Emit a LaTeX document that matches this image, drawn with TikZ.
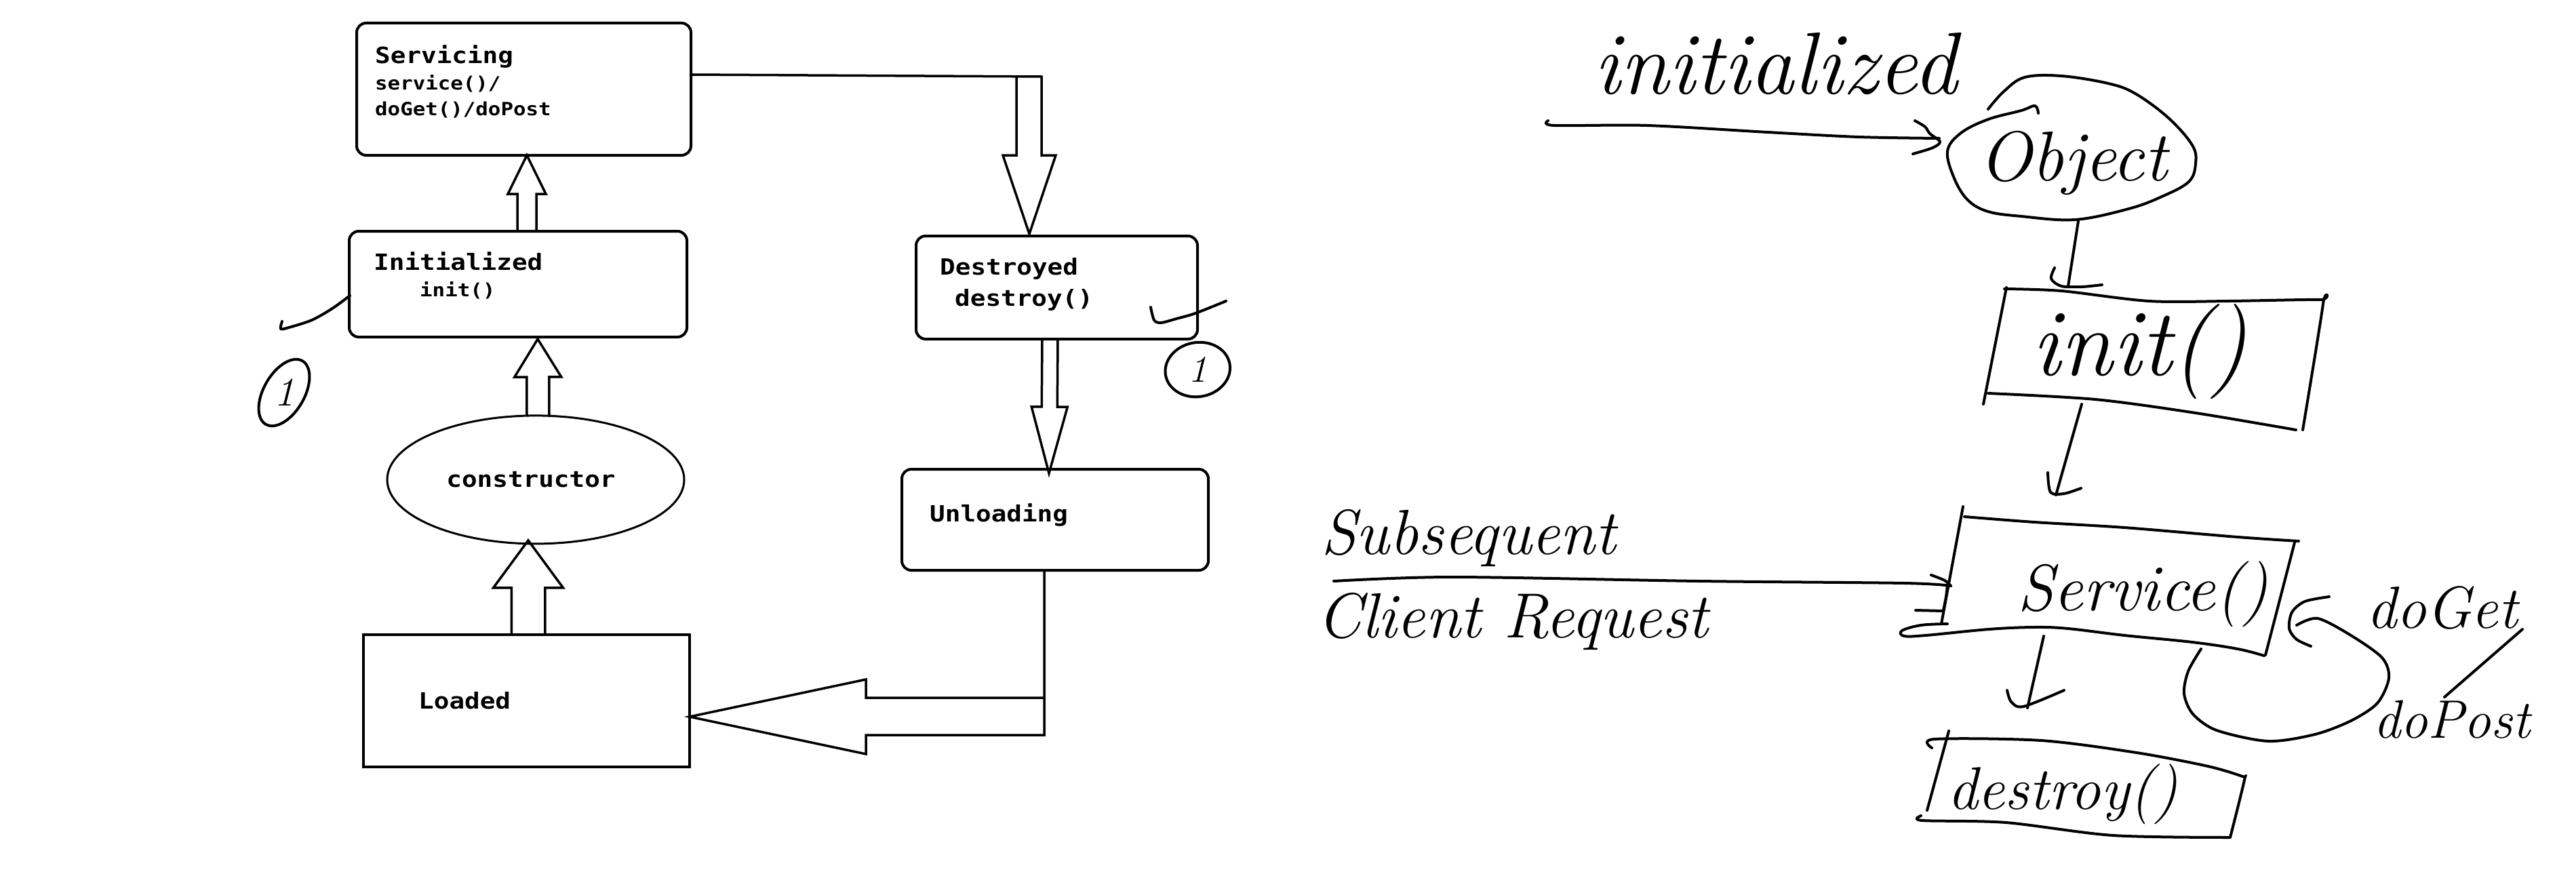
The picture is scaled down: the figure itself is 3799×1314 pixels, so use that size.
\documentclass[tikz,border=0pt]{standalone}
\usepackage{fontspec}
\newfontfamily\tyf[FakeStretch=1.14]{DejaVu Sans Mono Bold}
\usetikzlibrary{calc,shapes.geometric}
\newcommand\hwf[1]{\fontsize{#1}{#1}\selectfont\itshape}
\newcommand\blockarrow[5]{%
  \coordinate (bh) at ($(#2)!#5!(#1)$);
  \draw[blk] ($(#1)!#3!90:(#2)$) -- ($(bh)!#3!-90:(#1)$) -- ($(bh)!#4!-90:(#1)$) -- (#2)
     -- ($(bh)!#4!90:(#1)$) -- ($(bh)!#3!90:(#1)$) -- ($(#1)!#3!-90:(#2)$);}
\tikzset{
  box/.style={draw, line width=4pt, rounded corners=14pt, inner sep=0pt, outer sep=0pt},
  sqbox/.style={draw, line width=4.5pt, inner sep=0pt, outer sep=0pt},
  big/.style={font=\fontsize{33}{36}\selectfont\tyf, anchor=base west, inner sep=0pt},
  small/.style={font=\fontsize{27}{30}\selectfont\tyf, anchor=base west, inner sep=0pt},
  blk/.style={draw, line width=3.5pt, line join=miter},
  pen/.style={line width=4pt, line cap=round, line join=round},
  hw/.style={anchor=base west, inner sep=0pt},
}
\begin{document}
\begin{tikzpicture}[x=1pt,y=-1pt]
\fill[white] (0,0) rectangle (3799,1314);
\useasboundingbox (0,0) rectangle (3799,1314);

% ---------- typed state diagram ----------
\node[box, minimum width=493pt, minimum height=195pt] (serv) at (772.5,131.5) {};
\node[box, minimum width=498pt, minimum height=156pt] (ini) at (764,419) {};
\node[box, minimum width=415pt, minimum height=152pt] (des) at (1558.5,424) {};
\node[box, minimum width=452pt, minimum height=149pt] (unl) at (1556,766.5) {};
\node[sqbox, minimum width=481pt, minimum height=195pt] (load) at (776.5,1033.5) {};
\node[draw, ellipse, line width=3pt, outer sep=0pt, inner sep=0pt,
      minimum width=438pt, minimum height=189pt] (cons) at (790,707.4) {};

\node[big] (tserv) at (553,93.6) {Servicing};
\node[small] (tserv2) at (553,132) {service()/};
\node[small] (tserv3) at (553,170) {doGet()/doPost};
\node[big] (tini) at (551,398) {Initialized};
\node[small] (tini2) at (619,437.5) {init()};
\node[big] (tdes) at (1386,405) {Destroyed};
\node[big] (tdes2) at (1408,451) {destroy()};
\node[big, anchor=base] (tcons) at (783,718) {constructor};
\node[big] (tunl) at (1371,769) {Unloading};
\node[big] (tload) at (617,1045) {Loaded};

% block arrows
\coordinate (a1s) at ($(load.north)+(2.5,0)$);
\coordinate (a1t) at ($(cons.south)+(-11,-5)$);
\blockarrow{a1s}{a1t}{24.75pt}{51.5pt}{70pt}
\coordinate (a2s) at ($(cons.north)+(3.5,0)$);
\coordinate (a2t) at ($(ini.south)+(29,3)$);
\blockarrow{a2s}{a2t}{16.5pt}{34.5pt}{56pt}
\coordinate (a3s) at ($(ini.north)+(13,0)$);
\coordinate (a3t) at ($(serv.south)+(4.5,0)$);
\blockarrow{a3s}{a3t}{14pt}{28pt}{57pt}
\coordinate (a4s) at ($(des.south)+(-10,0)$);
\coordinate (a4t) at ($(unl.north)+(-9,6)$);
\blockarrow{a4s}{a4t}{11.5pt}{26.5pt}{98pt}
% Servicing -> Destroyed
\coordinate (a5t) at ($(des.north)+(-40.5,-3)$);
\draw[blk] ($(serv.east)+(0,-21.5)$) -- ($(a5t)+(18,-232)$) -- ($(a5t)+(18,-116)$)
  -- ($(a5t)+(39,-116)$) -- (a5t) -- ($(a5t)+(-39,-116)$) -- ($(a5t)+(-19,-116)$)
  -- ($(a5t)+(-19,-231)$);
% Unloading -> Loaded
\coordinate (a6s) at ($(unl.south)+(-16,0)$);
\coordinate (a6t) at ($(load.east)+(0,23.5)$);
\draw[blk] (a6s) -- ($(a6t)+(523,27)$) -- ($(a6t)+(260,27)$) -- ($(a6t)+(260,55)$)
  -- (a6t) -- ($(a6t)+(260,-55)$) -- ($(a6t)+(260,-28)$) -- ($(a6t)+(523,-28)$);

% hand marks on the left
\draw[pen] plot[smooth] coordinates {(516,436) (490,455) (460,472) (426,483) (414,485) (416,474)};
\draw[pen] plot[smooth] coordinates {(1697,453) (1702,472) (1712,476) (1735,470) (1763,462) (1808,444)};
\coordinate (c1) at (419,579);
\draw[pen, rotate around={60:(c1)}] (c1) ellipse [x radius=54pt, y radius=30pt];
\node[hw, anchor=center, font=\hwf{60}] (one1) at (c1) {1};
\coordinate (c2) at (1766,545);
\draw[pen, rotate around={10:(c2)}] (c2) ellipse [x radius=48pt, y radius=40pt];
\node[hw, anchor=center, font=\hwf{56}] (one2) at (c2) {1};

% ---------- handwritten sketch ----------
\node[hw, font=\hwf{130}] (hinit) at (2350,138) {initialized};
\node[hw, font=\hwf{104}] (hobj) at (2918,266) {Object};
\node[hw, font=\hwf{140}] (hini) at (2996,553) {init()};
\node[hw, font=\hwf{94}] (hsub) at (1948,817) {Subsequent};
\node[hw, font=\hwf{94}] (hcli) at (1942,940) {Client Request};
\node[hw, font=\hwf{97}] (hser) at (2975,900) {Service()};
\node[hw, font=\hwf{88}] (hget) at (3490,926) {doGet};
\node[hw, font=\hwf{80}] (hpost) at (3500,1088) {doPost};
\node[hw, font=\hwf{89}] (hdes) at (2872,1193) {destroy()};

% initialized arrow
\draw[pen] plot[smooth] coordinates {(2283,178) (2292,185) (2429,185) (2607,195) (2741,202) (2860,204)};
\draw[pen] plot[smooth] coordinates {(2824,178) (2839,187) (2846,197) (2861,209) (2850,218) (2821,227)};
% Object blob
\draw[pen] plot[smooth, tension=0.6] coordinates {(2932,161) (2955,135) (2986,114) (3040,112) (3109,123)
  (3149,138) (3198,174) (3233,214) (3238,241) (3228,268) (3188,290) (3139,308) (3060,324) (2981,319)
  (2932,312) (2902,295) (2882,263) (2872,223) (2892,196) (2932,176) (2981,163) (3001,156) (3006,167)};
% Object -> init()
\draw[pen] (3065,326) -- (3050,422);
\draw[pen] plot[smooth] coordinates {(3030,395) (3025,411) (3040,422) (3070,423) (3100,420)};
% init() box
\draw[pen] (2959,424) -- (2925,596);
\draw[pen] plot[smooth] coordinates {(2956,426) (3040,429) (3169,444) (3287,444) (3421,442) (3426,448) (3396,634)};
\draw[pen] plot[smooth] coordinates {(2932,580) (3090,589) (3238,609) (3386,634)};
% init() -> Service()
\draw[pen] (3070,596) -- (3032,730);
\draw[pen] plot[smooth] coordinates {(3020,697) (3024,726) (3044,728) (3069,720)};
% Service() box
\draw[pen] (2895,747) -- (2863,920);
\draw[pen] plot[smooth] coordinates {(2897,762) (3000,770) (3133,778) (3300,792) (3390,798)};
\draw[pen] (3384,800) -- (3341,966);
\draw[pen] plot[smooth, tension=0.6] coordinates {(2872,920) (2833,922) (2805,930) (2808,938) (2840,937)
  (2933,928) (3000,925) (3050,927) (3133,937) (3233,947) (3300,957) (3339,967)};
% Subsequent Client Request -> Service()
\draw[pen] plot[smooth] coordinates {(1967,857) (2142,851) (2505,857) (2808,860) (2877,864)};
\draw[pen] plot[smooth] coordinates {(2848,848) (2868,856) (2877,864)};
\draw[pen] plot[smooth] coordinates {(2872,862) (2870,880) (2866,900)};
\draw[pen] (2825,900) -- (2866,901);
% loop doGet / doPost
\draw[pen] plot[smooth] coordinates {(3435,880) (3399,887) (3380,903) (3376,927) (3387,943) (3408,953)};
\draw[pen] plot[smooth] coordinates {(3246,957) (3227,990) (3221,1023) (3234,1053) (3269,1077) (3345,1093)
  (3414,1083) (3467,1063) (3506,1037) (3523,1000) (3513,970) (3467,937) (3418,912) (3387,922)};
\draw[pen] (3720,928) -- (3605,1028);
% Service() -> destroy()
\draw[pen] (3014,938) -- (2990,1044);
\draw[pen] plot[smooth] coordinates {(2960,1018) (2966,1035) (2984,1042) (3044,1018)};
% destroy() box
\draw[pen] (2874,1078) -- (2842,1195);
\draw[pen] plot[smooth] coordinates {(2849,1103) (2853,1090) (3010,1092) (3151,1110) (3256,1130) (3307,1145) (3310,1150) (3289,1235)};
\draw[pen] plot[smooth] coordinates {(2833,1203) (2835,1210) (2958,1213) (3116,1232) (3288,1235)};
\end{tikzpicture}
\end{document}
